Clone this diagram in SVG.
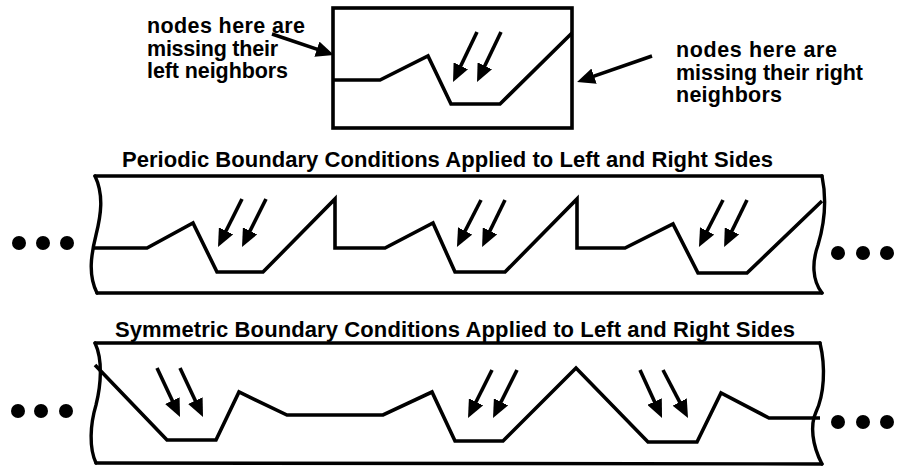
<svg xmlns="http://www.w3.org/2000/svg" width="897" height="469" viewBox="0 0 897 469">
<style>
.ln{fill:none;stroke:#000;stroke-width:3.6;stroke-linejoin:miter;stroke-linecap:butt}
.edge{fill:none;stroke:#000;stroke-width:3.4;stroke-linecap:round}
.ar{fill:none;stroke:#000;stroke-width:3.6}
.lbl{font-family:"Liberation Sans",Arial,sans-serif;font-weight:bold;font-size:21.5px;fill:#000}
.ttl{font-family:"Liberation Sans",Arial,sans-serif;font-weight:bold;font-size:22px;fill:#000}
.dot{fill:#000}
</style>
<defs>
<marker id="ah" markerUnits="userSpaceOnUse" markerWidth="19" markerHeight="16" refX="10" refY="8" orient="auto">
<path d="M0,0 L18,8 L0,16 z" fill="#000"/>
</marker>
</defs>
<rect width="897" height="469" fill="#fff"/>

<g id="top-box">
<rect x="333" y="8" width="239" height="120" class="ln" stroke-width="4"/>
<polyline class="ln" points="333,80 380,80 428,56 451,104 500,104 572,33"/>
</g>

<g id="label-left">
<text class="lbl" x="147" y="33" textLength="158">nodes here are</text>
<text class="lbl" x="147" y="56" textLength="131">missing their</text>
<text class="lbl" x="147" y="78" textLength="141">left neighbors</text>
</g>

<g id="label-right">
<text class="lbl" x="676" y="57" textLength="161">nodes here are</text>
<text class="lbl" x="676" y="80" textLength="187">missing their right</text>
<text class="lbl" x="676" y="102" textLength="106">neighbors</text>
</g>

<g id="periodic-band">
<text class="ttl" x="122" y="167" textLength="651">Periodic Boundary Conditions Applied to Left and Right Sides</text>
<line class="edge" x1="95" y1="176" x2="822" y2="176"/>
<line class="edge" x1="97" y1="293" x2="822" y2="293"/>
<path class="edge" d="M95,176 C104,195 101,215 96,235 C91,255 88,275 97,293"/>
<path class="edge" d="M822,176 C827,200 824,225 818,245 C812,262 812,280 822,293"/>
<polyline class="ln" points="93,248 147,248 193,223 217,272 263,272 335,199 335,248 385,248 433,223 455,272 505,272 577,199 577,248 625,248 673,224 698,273 747,273 822,201"/>
<circle class="dot" cx="19" cy="243" r="7"/>
<circle class="dot" cx="43" cy="243" r="7"/>
<circle class="dot" cx="67" cy="243" r="7"/>
<circle class="dot" cx="838" cy="253" r="7"/>
<circle class="dot" cx="863" cy="253" r="7"/>
<circle class="dot" cx="887" cy="253" r="7"/>
</g>

<g id="symmetric-band">
<text class="ttl" x="115" y="337" textLength="680">Symmetric Boundary Conditions Applied to Left and Right Sides</text>
<line class="edge" x1="95" y1="343" x2="820" y2="343"/>
<line class="edge" x1="96" y1="463" x2="822" y2="464"/>
<path class="edge" d="M95,343 C103,360 101,385 96,405 C90,425 89,448 96,463"/>
<path class="edge" d="M820,343 C826,368 824,395 816,412 C810,425 812,445 822,464"/>
<polyline class="ln" points="95,365 167,440 216,440 239,392 287,415 383,415 432,392 455,441 503,441 576,368 648,442 697,442 721,393 769,418 820,418"/>
<circle class="dot" cx="18" cy="411" r="7"/>
<circle class="dot" cx="41" cy="411" r="7"/>
<circle class="dot" cx="66" cy="411" r="7"/>
<circle class="dot" cx="838" cy="422" r="7"/>
<circle class="dot" cx="863" cy="422" r="7"/>
<circle class="dot" cx="887" cy="422" r="7"/>
</g>

<g id="connectors">
<line class="ar" x1="272" y1="34" x2="326.4" y2="52.4" marker-end="url(#ah)"/>
<line class="ar" x1="652" y1="56" x2="584.6" y2="79.4" marker-end="url(#ah)"/>
<line class="ar" x1="477" y1="32" x2="456.5" y2="74.8" marker-end="url(#ah)"/>
<line class="ar" x1="501" y1="32" x2="480.5" y2="74.8" marker-end="url(#ah)"/>
<line class="ar" x1="242" y1="199" x2="221.6" y2="239.8" marker-end="url(#ah)"/>
<line class="ar" x1="266" y1="199" x2="245.6" y2="239.8" marker-end="url(#ah)"/>
<line class="ar" x1="481" y1="200" x2="460.6" y2="239.8" marker-end="url(#ah)"/>
<line class="ar" x1="505" y1="200" x2="485.6" y2="239.8" marker-end="url(#ah)"/>
<line class="ar" x1="723" y1="200" x2="702.6" y2="239.8" marker-end="url(#ah)"/>
<line class="ar" x1="747" y1="200" x2="727.6" y2="239.8" marker-end="url(#ah)"/>
<line class="ar" x1="157" y1="368" x2="176.6" y2="409.7" marker-end="url(#ah)"/>
<line class="ar" x1="180" y1="368" x2="199.6" y2="409.7" marker-end="url(#ah)"/>
<line class="ar" x1="492" y1="370" x2="471.6" y2="410.8" marker-end="url(#ah)"/>
<line class="ar" x1="517" y1="370" x2="496.6" y2="410.8" marker-end="url(#ah)"/>
<line class="ar" x1="640" y1="370" x2="658.7" y2="410.7" marker-end="url(#ah)"/>
<line class="ar" x1="663" y1="370" x2="684.3" y2="410.9" marker-end="url(#ah)"/>
</g>
</svg>
